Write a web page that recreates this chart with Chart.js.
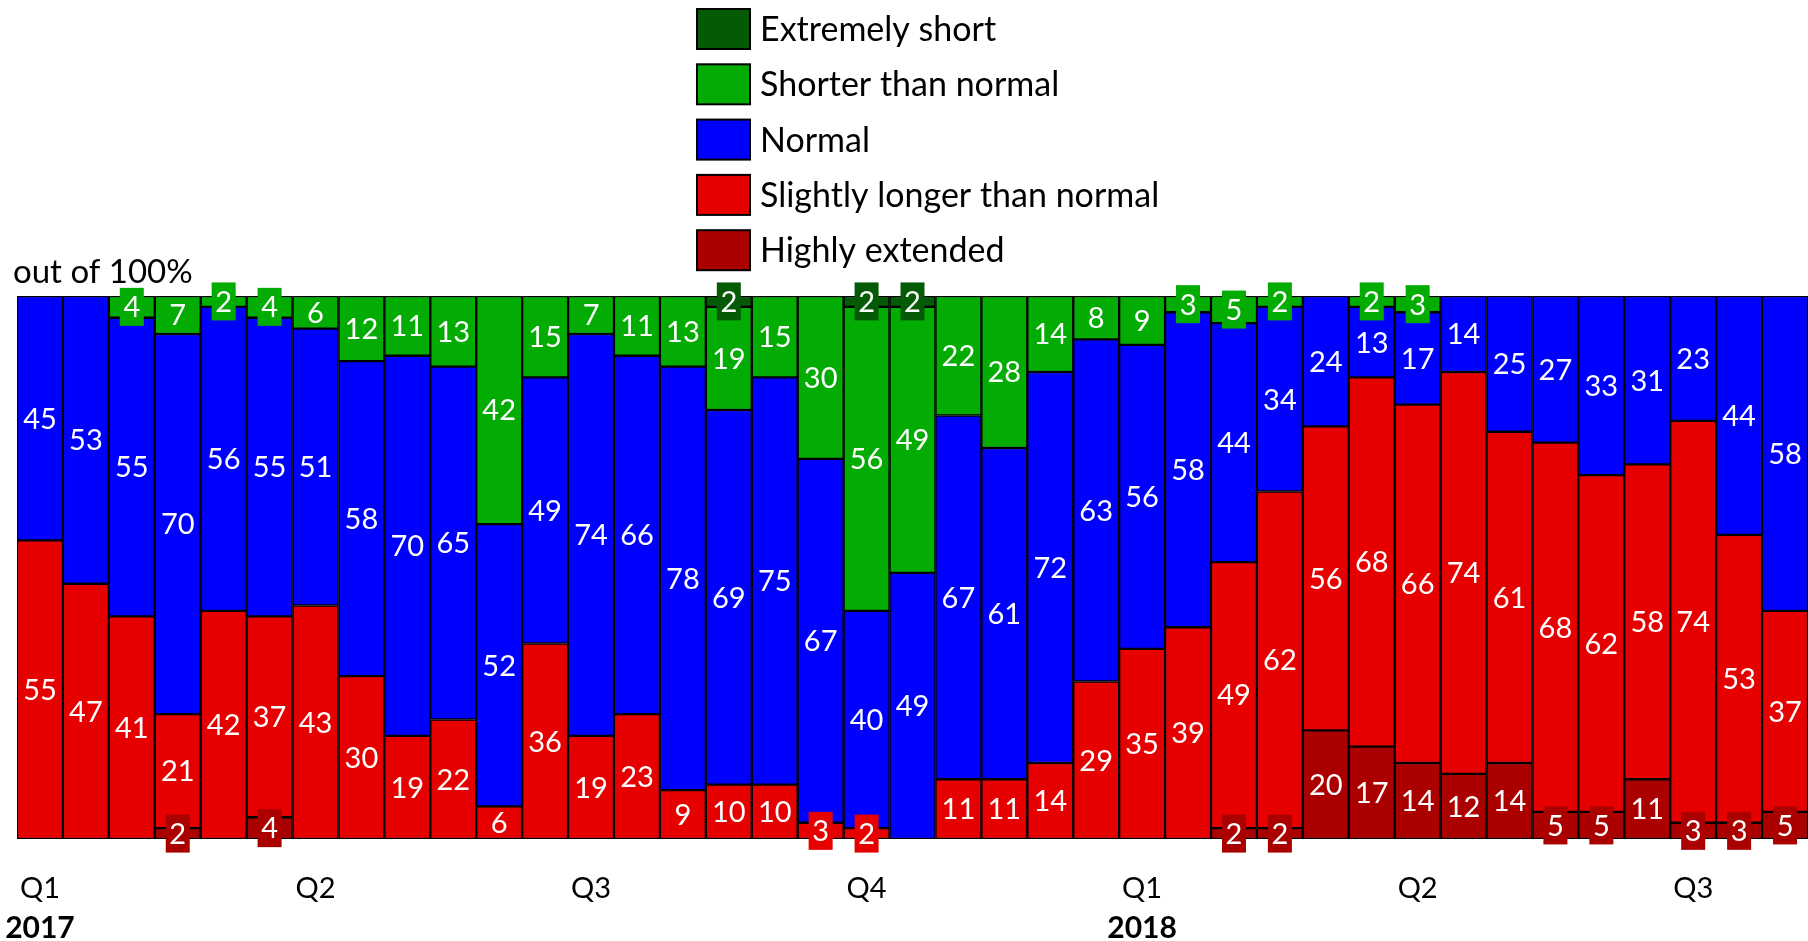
<!DOCTYPE html>
<html>
<head>
<meta charset="utf-8">
<script src="https://cdn.jsdelivr.net/npm/chart.js@4.4.1/dist/chart.umd.min.js"></script>
<style>
html, body { margin: 0; padding: 0; background: #fff; }
#wrap { width: 1808px; height: 941px; }
</style>
</head>
<body>
<div id="wrap"><canvas id="durationChart"></canvas></div>
<script>
// one bar per period, 6 periods per quarter
const quarterLabels = ['Q1','','','','','',
  'Q2','','','','','',
  'Q3','','','','','',
  'Q4','','','','','',
  'Q1','','','','','',
  'Q2','','','','','',
  'Q3','',''];
const yearLabels = ['2017','','','','','','','','','','','','','','','','','','','','','','','',
  '2018','','','','','','','','','','','','','',''];

const seriesNames = ['Highly extended', 'Slightly longer than normal', 'Normal', 'Shorter than normal', 'Extremely short'];
const seriesColors = ['#aa0000', '#e60000', '#0000ff', '#03ac03', '#055a05'];

const highlyExtended = [0,0,0,2,0,4,0,0,0,0,0,0,0,0,0,0,0,0,0,0,0,0,0,0,0,0,2,2,20,17,14,12,14,5,5,11,3,3,5];
const slightlyLonger = [55,47,41,21,42,37,43,30,19,22,6,36,19,23,9,10,10,3,2,0,11,11,14,29,35,39,49,62,56,68,66,74,61,68,62,58,74,53,37];
const normal = [45,53,55,70,56,55,51,58,70,65,52,49,74,66,78,69,75,67,40,49,67,61,72,63,56,58,44,34,24,13,17,14,25,27,33,31,23,44,58];
const shorter = [0,0,4,7,2,4,6,12,11,13,42,15,7,11,13,19,15,30,56,49,22,28,14,8,9,3,5,2,0,2,3,0,0,0,0,0,0,0,0];
const extremelyShort = [0,0,0,0,0,0,0,0,0,0,0,0,0,0,0,2,0,0,2,2,0,0,0,0,0,0,0,0,0,0,0,0,0,0,0,0,0,0,0];

const seriesValues = [highlyExtended, slightlyLonger, normal, shorter, extremelyShort];
const FONT = 'Lato, "Open Sans", sans-serif';

const datasets = seriesValues.map((vals, i) => ({
  label: seriesNames[i],
  data: vals.map(v => v === 0 ? null : v),
  backgroundColor: seriesColors[i],
  borderColor: '#000',
  borderWidth: 1.5,
  borderSkipped: false,
  categoryPercentage: 1,
  barPercentage: 1
}));

// labels inside the segments, small ones get a coloured box
const extras = {
  id: 'extras',
  afterDatasetsDraw(chart) {
    const ctx = chart.ctx;
    ctx.save();
    ctx.textAlign = 'center';
    ctx.textBaseline = 'middle';
    ctx.font = '29px ' + FONT;
    chart.data.datasets.forEach((ds, i) => {
      const meta = chart.getDatasetMeta(i);
      meta.data.forEach((bar, j) => {
        const v = ds.data[j];
        if (!v) return;
        const cy = (bar.y + bar.base) / 2;
        if (v <= 5) {
          ctx.fillStyle = ds.backgroundColor;
          ctx.fillRect(bar.x - 12, cy - 19, 24, 38);
        }
        ctx.fillStyle = '#fff';
        ctx.fillText(String(v), bar.x, cy + 1);
      });
    });
    ctx.restore();
  },
  afterDraw(chart) {
    const ctx = chart.ctx;
    const area = chart.chartArea;
    ctx.save();
    ctx.fillStyle = '#000';
    ctx.textAlign = 'left';
    ctx.textBaseline = 'middle';
    ctx.font = '33px ' + FONT;
    ctx.fillText('out of 100%', 13, area.top - 24);

    // legend, top item = top of stack
    const n = chart.data.datasets.length;
    for (let k = 0; k < n; k++) {
      const ds = chart.data.datasets[n - 1 - k];
      const cy = 29 + k * 55.3;
      ctx.fillStyle = ds.backgroundColor;
      ctx.fillRect(697, cy - 20, 53, 40);
      ctx.lineWidth = 2;
      ctx.strokeStyle = '#000';
      ctx.strokeRect(697, cy - 20, 53, 40);
      ctx.fillStyle = '#000';
      ctx.font = '34px ' + FONT;
      ctx.fillText(ds.label, 760, cy + 1);
    }
    ctx.restore();
  }
};

new Chart(document.getElementById('durationChart'), {
  type: 'bar',
  data: { labels: quarterLabels, datasets: datasets },
  options: {
    responsive: true,
    maintainAspectRatio: false,
    animation: false,
    layout: { padding: { top: 296, left: 17, right: 0, bottom: 0 } },
    plugins: { legend: { display: false }, tooltip: { enabled: false } },
    scales: {
      x: {
        stacked: true,
        grid: { display: false, drawTicks: false },
        border: { display: false },
        ticks: { autoSkip: false, maxRotation: 0, padding: 35, color: '#000',
          font: { family: FONT, size: 29, lineHeight: 1 } },
        afterFit(s) { s.height = 63; s.paddingLeft = 0; s.paddingRight = 0; }
      },
      x2: {
        type: 'category',
        labels: yearLabels,
        position: 'bottom',
        grid: { display: false, drawTicks: false },
        border: { display: false },
        ticks: { autoSkip: false, maxRotation: 0, padding: 11, color: '#000',
          font: { family: FONT, size: 30, weight: 'bold', lineHeight: 1 } },
        afterFit(s) { s.height = 39; s.paddingLeft = 0; s.paddingRight = 0; }
      },
      y: {
        stacked: true,
        display: false,
        min: 0,
        max: 100
      }
    }
  },
  plugins: [extras]
});
</script>
</body>
</html>
